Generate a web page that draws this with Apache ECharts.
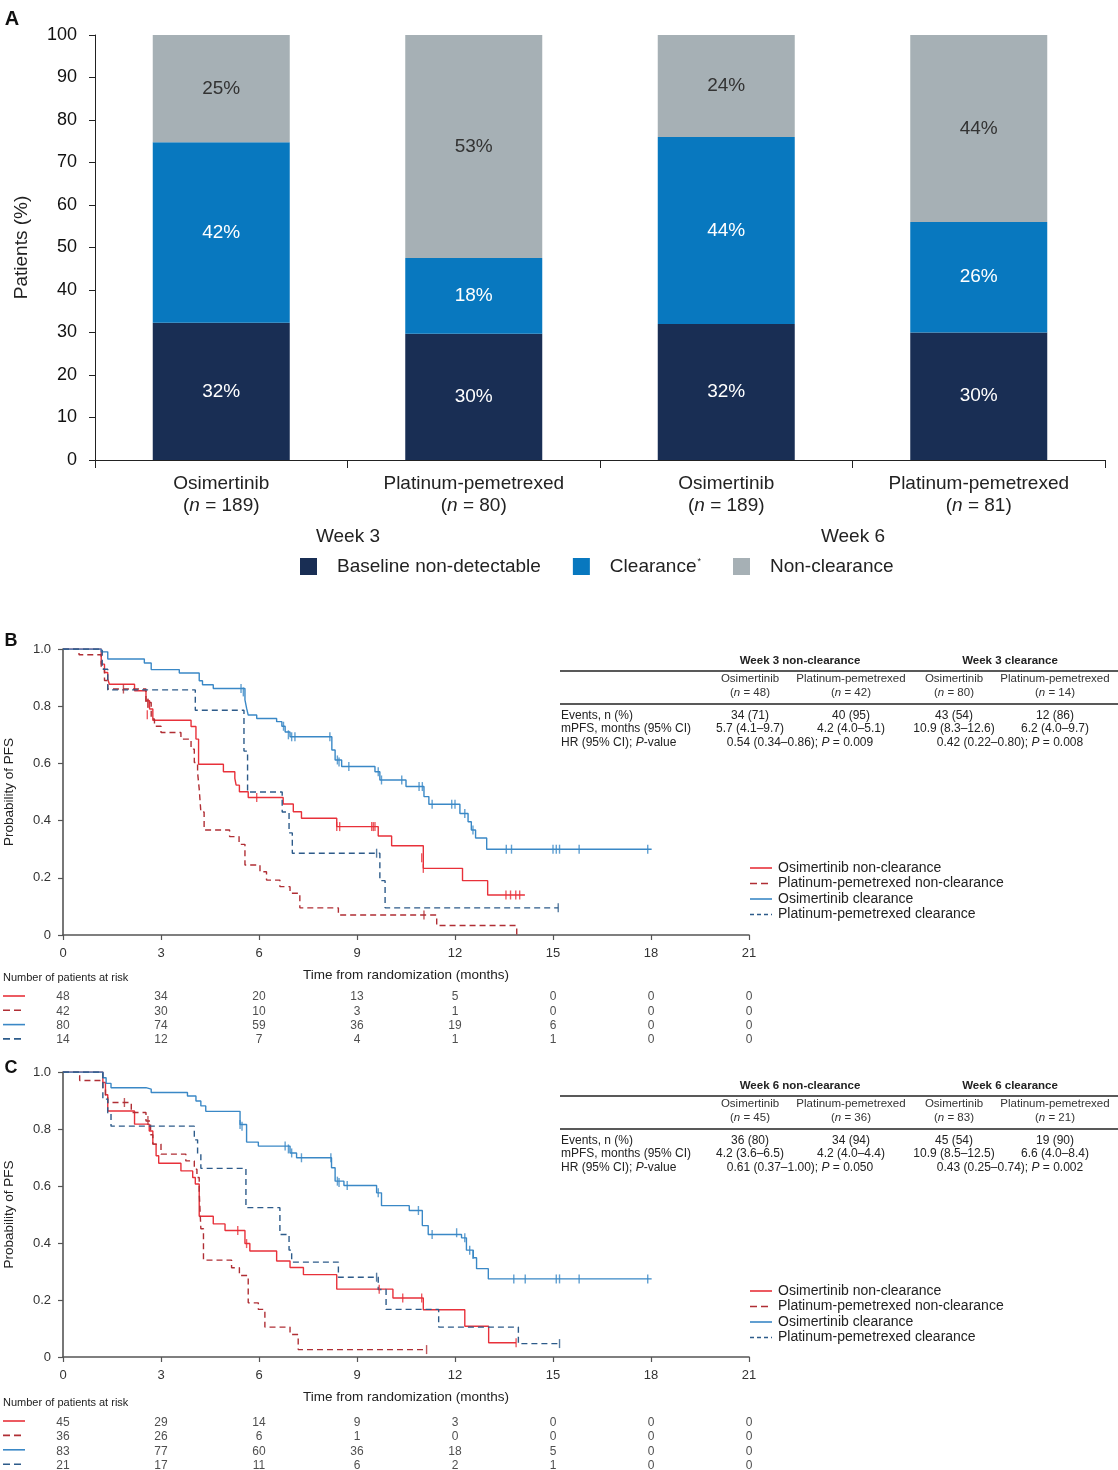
<!DOCTYPE html>
<html><head><meta charset="utf-8">
<script src="https://cdn.jsdelivr.net/npm/echarts/dist/echarts.min.js"></script>
<style>html,body{margin:0;padding:0;background:#fff}#c{width:1118px;height:1470px}</style>
</head><body><div id="c"></div><script>
// ---------- Panel A data ----------
const barCategories = ['Osimertinib', 'Platinum-pemetrexed', 'Osimertinib', 'Platinum-pemetrexed'];
const barN = [189, 80, 189, 81];
const weekLabels = ['Week 3', 'Week 6'];
const baselineND = [32, 30, 32, 30];
const clearance = [42, 18, 44, 26];
const nonClearance = [25, 53, 24, 44];

// ---------- Panel B KM data [months, probability] ----------
const kmB_osiNon = [[0,1],[1.17,0.947],[1.27,0.918],[1.37,0.895],[1.42,0.877],[2.19,0.854],[2.54,0.819],[2.65,0.79],[2.75,0.751],[3.92,0.729],[4.07,0.685],[4.15,0.597],[4.91,0.571],[5.26,0.548],[5.3,0.524],[5.4,0.501],[5.67,0.481],[6.74,0.458],[7.05,0.431],[7.3,0.408],[8.38,0.379],[9.65,0.346],[10.06,0.312],[11.03,0.233],[12.23,0.19],[13.0,0.14],[14.14,0.14]];
const kmB_osiNonCens = [[2.6,0.81],[2.58,0.77],[5.93,0.481],[8.38,0.379],[8.47,0.379],[9.45,0.379],[9.5,0.379],[9.55,0.379],[10.98,0.27],[11.03,0.233],[13.56,0.14],[13.7,0.14],[13.86,0.14],[13.98,0.14]];
const kmB_ppNon = [[0,1],[0.49,0.98],[1.17,0.93],[1.27,0.89],[1.37,0.86],[2.54,0.813],[2.7,0.755],[2.8,0.73],[3.0,0.708],[3.61,0.685],[3.92,0.65],[4.02,0.603],[4.12,0.568],[4.17,0.51],[4.22,0.43],[4.32,0.367],[5.1,0.344],[5.39,0.317],[5.57,0.245],[6.03,0.221],[6.23,0.192],[6.64,0.169],[6.95,0.146],[7.25,0.095],[8.43,0.07],[11.44,0.033],[13.89,0]];
const kmB_ppNonCens = [[1.85,0.86],[2.6,0.81],[11.05,0.07]];
const kmB_osiClr = [[0,1],[1.17,0.99],[1.37,0.965],[2.49,0.951],[2.7,0.928],[3.56,0.916],[4.17,0.889],[4.27,0.875],[4.6,0.862],[5.57,0.822],[5.62,0.793],[5.67,0.769],[5.93,0.757],[6.54,0.746],[6.7,0.73],[6.8,0.71],[6.95,0.693],[8.23,0.647],[8.33,0.612],[8.53,0.589],[9.55,0.571],[9.7,0.542],[10.5,0.519],[11.05,0.484],[11.2,0.457],[12.15,0.425],[12.4,0.396],[12.5,0.367],[12.63,0.339],[12.97,0.30],[18.02,0.30]];
const kmB_osiClrCens = [[5.45,0.862],[5.52,0.85],[6.75,0.73],[6.9,0.70],[7.0,0.693],[7.1,0.693],[8.17,0.693],[8.4,0.612],[8.45,0.605],[8.75,0.589],[9.65,0.571],[9.75,0.542],[10.37,0.542],[10.9,0.519],[11.0,0.519],[11.3,0.457],[11.9,0.457],[12.0,0.457],[12.3,0.425],[12.55,0.367],[13.57,0.30],[13.73,0.30],[15.0,0.30],[15.1,0.30],[15.2,0.30],[15.8,0.30],[17.9,0.30]];
const kmB_ppClr = [[0,1],[1.2,0.929],[1.37,0.857],[4.05,0.786],[5.54,0.643],[5.65,0.5],[6.71,0.43],[6.92,0.357],[7.02,0.286],[9.7,0.19],[9.86,0.095],[15.16,0.095]];
const kmB_ppClrCens = [[9.6,0.286],[15.16,0.095]];

// ---------- Panel C KM data ----------
const kmC_osiNon = [[0,1],[1.22,0.963],[1.3,0.92],[1.37,0.863],[2.19,0.817],[2.64,0.793],[2.75,0.747],[2.85,0.706],[2.93,0.68],[3.61,0.653],[3.97,0.63],[4.05,0.607],[4.17,0.494],[4.6,0.467],[4.96,0.444],[5.57,0.398],[5.72,0.372],[6.54,0.337],[6.95,0.314],[7.36,0.289],[8.38,0.238],[10.1,0.207],[11.03,0.166],[12.3,0.108],[13.03,0.05],[13.87,0.05]];
const kmC_osiNonCens = [[5.35,0.444],[5.62,0.398],[9.68,0.238],[10.4,0.207],[10.98,0.207],[13.87,0.05]];
const kmC_ppNon = [[0,1],[0.51,0.97],[1.22,0.94],[1.3,0.916],[1.37,0.893],[2.09,0.858],[2.54,0.828],[2.68,0.78],[2.75,0.747],[3.0,0.712],[3.76,0.688],[4.02,0.659],[4.1,0.63],[4.17,0.58],[4.22,0.45],[4.3,0.34],[5.16,0.313],[5.4,0.286],[5.67,0.19],[5.98,0.167],[6.18,0.105],[6.95,0.079],[7.2,0.026],[11.13,0.026]];
const kmC_ppNonCens = [[1.88,0.893],[2.6,0.83],[11.13,0.026]];
const kmC_osiClr = [[0,1],[1.22,0.98],[1.32,0.96],[1.47,0.945],[2.54,0.94],[2.7,0.928],[3.81,0.916],[4.07,0.898],[4.22,0.881],[4.37,0.862],[5.42,0.816],[5.62,0.754],[5.98,0.74],[6.95,0.716],[7.15,0.699],[8.22,0.664],[8.33,0.617],[8.6,0.602],[9.6,0.576],[9.75,0.531],[10.6,0.514],[11.0,0.461],[11.18,0.43],[12.2,0.418],[12.35,0.375],[12.56,0.348],[12.66,0.31],[13.02,0.274],[18.02,0.274]];
const kmC_osiClrCens = [[5.42,0.816],[5.48,0.81],[6.8,0.74],[6.9,0.73],[7.0,0.716],[7.3,0.699],[8.2,0.699],[8.4,0.617],[8.45,0.612],[8.7,0.602],[9.65,0.576],[10.88,0.514],[11.3,0.43],[12.05,0.436],[12.3,0.418],[12.45,0.375],[12.55,0.36],[13.8,0.274],[14.15,0.274],[15.1,0.274],[15.2,0.274],[15.8,0.274],[17.9,0.274]];
const kmC_ppClr = [[0,1],[1.22,0.905],[1.37,0.857],[1.47,0.81],[4.02,0.762],[4.12,0.714],[4.22,0.662],[5.6,0.524],[6.64,0.43],[6.92,0.375],[7.0,0.333],[8.43,0.28],[9.65,0.237],[9.89,0.167],[11.5,0.105],[13.94,0.047],[15.2,0.047]];
const kmC_ppClrCens = [[9.6,0.28],[15.2,0.047]];

// ---------- At-risk tables ----------
const riskTimes = [0, 3, 6, 9, 12, 15, 18, 21];
const riskB_osiNon = [48, 34, 20, 13, 5, 0, 0, 0];
const riskB_ppNon = [42, 30, 10, 3, 1, 0, 0, 0];
const riskB_osiClr = [80, 74, 59, 36, 19, 6, 0, 0];
const riskB_ppClr = [14, 12, 7, 4, 1, 1, 0, 0];
const riskC_osiNon = [45, 29, 14, 9, 3, 0, 0, 0];
const riskC_ppNon = [36, 26, 6, 1, 0, 0, 0, 0];
const riskC_osiClr = [83, 77, 60, 36, 18, 5, 0, 0];
const riskC_ppClr = [21, 17, 11, 6, 2, 1, 0, 0];

// ---------- Summary tables ----------
const tblB_groups = ['Week 3 non-clearance', 'Week 3 clearance'];
const tblB_n = [48, 42, 80, 14];
const tblB_events = ['34 (71)', '40 (95)', '43 (54)', '12 (86)'];
const tblB_mpfs = ['5.7 (4.1–9.7)', '4.2 (4.0–5.1)', '10.9 (8.3–12.6)', '6.2 (4.0–9.7)'];
const tblB_hr = ['0.54 (0.34–0.86); {i|P} = 0.009', '0.42 (0.22–0.80); {i|P} = 0.008'];
const tblC_groups = ['Week 6 non-clearance', 'Week 6 clearance'];
const tblC_n = [45, 36, 83, 21];
const tblC_events = ['36 (80)', '34 (94)', '45 (54)', '19 (90)'];
const tblC_mpfs = ['4.2 (3.6–6.5)', '4.2 (4.0–4.4)', '10.9 (8.5–12.5)', '6.6 (4.0–8.4)'];
const tblC_hr = ['0.61 (0.37–1.00); {i|P} = 0.050', '0.43 (0.25–0.74); {i|P} = 0.002'];
const tblArms = ['Osimertinib', 'Platinum-pemetrexed', 'Osimertinib', 'Platinum-pemetrexed'];
const kmLegend = ['Osimertinib non-clearance', 'Platinum-pemetrexed non-clearance', 'Osimertinib clearance', 'Platinum-pemetrexed clearance'];

// ---------- styling ----------
const FONT = '"Liberation Sans", Arial, Helvetica, sans-serif';
const C_DARK = '#192e54', C_BLUE = '#0878bf', C_GREY = '#a6b0b5';
const K_RED = '#e8313a', K_DRED = '#b02e34', K_BLUE = '#3a88c6', K_DBLUE = '#2d5b8a';
const kmStyles = [
  { color: K_RED, type: 'solid' },
  { color: K_DRED, type: [6, 4] },
  { color: K_BLUE, type: 'solid' },
  { color: K_DBLUE, type: [6, 4] }
];

const totals = baselineND.map((v, i) => v + clearance[i] + nonClearance[i]);
const norm = arr => arr.map((v, i) => v / totals[i] * 100);

function barSeries(name, raw, color, labelColor) {
  return {
    name, type: 'bar', stack: 'a', xAxisIndex: 0, yAxisIndex: 0, barWidth: 137,
    data: norm(raw), itemStyle: { color },
    label: { show: true, position: 'inside', color: labelColor, fontSize: 19, fontFamily: FONT,
      formatter: p => raw[p.dataIndex] + '%' }
  };
}

function kmAxisX(gi, nameTxt) {
  return {
    type: 'value', gridIndex: gi, min: 0, max: 21, interval: 3,
    axisLine: { show: true, lineStyle: { color: '#555', width: 1.6 } },
    axisTick: { show: true, length: 5, lineStyle: { color: '#555', width: 1.2 } },
    axisLabel: { fontSize: 13, color: '#333', margin: 12, fontFamily: FONT },
    splitLine: { show: false },
    name: nameTxt, nameLocation: 'middle', nameGap: 33,
    nameTextStyle: { fontSize: 13.5, color: '#222', fontFamily: FONT }
  };
}
function kmAxisY(gi) {
  return {
    type: 'value', gridIndex: gi, min: 0, max: 1, interval: 0.2,
    axisLine: { show: true, lineStyle: { color: '#555', width: 1.6 } },
    axisTick: { show: true, length: 5, lineStyle: { color: '#555', width: 1.2 } },
    axisLabel: { fontSize: 13, color: '#333', margin: 12, fontFamily: FONT,
      formatter: v => v === 0 ? '0' : v.toFixed(1) },
    splitLine: { show: false },
    name: 'Probability of PFS', nameLocation: 'middle', nameGap: 47,
    nameTextStyle: { fontSize: 13.5, color: '#222', fontFamily: FONT }
  };
}
function kmLine(data, st, ai) {
  return { type: 'line', step: 'end', xAxisIndex: ai, yAxisIndex: ai, data, showSymbol: false, symbol: 'none',
    lineStyle: { color: st.color, width: 1.4, type: st.type }, itemStyle: { color: st.color }, z: 3, silent: true };
}
function kmCens(data, st, ai) {
  return { type: 'scatter', xAxisIndex: ai, yAxisIndex: ai, data, symbol: 'rect', symbolSize: [1.4, 9],
    itemStyle: { color: st.color }, z: 4, silent: true };
}
function riskSeries(rows, ai) {
  const data = [];
  rows.forEach((r, ri) => r.forEach((v, i) => data.push([riskTimes[i], ri, v])));
  return { type: 'scatter', xAxisIndex: ai, yAxisIndex: ai, data, symbolSize: 1,
    itemStyle: { color: 'rgba(0,0,0,0)' }, silent: true,
    label: { show: true, position: 'inside', color: '#222', fontSize: 12, fontFamily: FONT, formatter: p => p.value[2] } };
}

// ---------- graphics ----------
const G = [];
function txt(x, y, text, o = {}) {
  G.push({ type: 'text', x, y, silent: true, style: Object.assign({
    text, fontSize: 12, fontFamily: FONT, fill: '#222', align: 'center', verticalAlign: 'middle',
    rich: { i: { fontStyle: 'italic', fontSize: o.fontSize || 12, fontFamily: FONT, fill: o.fill || '#222' } }
  }, o) });
}
function hline(x1, x2, y, color, width, dash) {
  G.push({ type: 'line', silent: true, shape: { x1, y1: y, x2, y2: y },
    style: { stroke: color, lineWidth: width, lineDash: dash || null } });
}
// panel letters
txt(12, 19, 'A', { fontSize: 20, fontWeight: 'bold', fill: '#111' });
txt(11, 641, 'B', { fontSize: 18, fontWeight: 'bold', fill: '#111' });
txt(11, 1068, 'C', { fontSize: 18, fontWeight: 'bold', fill: '#111' });
// week labels
txt(348, 537, weekLabels[0], { fontSize: 19 });
txt(853, 537, weekLabels[1], { fontSize: 19 });

function statTable(top, groups, n, ev, mpfs, hr) {
  const cols = [750, 851, 954, 1055];
  txt(800, top + 1, groups[0], { fontWeight: 'bold', fontSize: 11.5 });
  txt(1010, top + 1, groups[1], { fontWeight: 'bold', fontSize: 11.5 });
  hline(560, 1118, top + 11, '#222', 1.3);
  cols.forEach((x, i) => {
    txt(x, top + 19, tblArms[i], { fontSize: 11.5, fill: '#333' });
    txt(x, top + 33, '({i|n} = ' + n[i] + ')', { fontSize: 11.5, fill: '#333' });
    txt(x, top + 56, ev[i]);
    txt(x, top + 69, mpfs[i]);
  });
  hline(560, 1118, top + 44, '#222', 1.3);
  txt(561, top + 56, 'Events, n (%)', { align: 'left' });
  txt(561, top + 69, 'mPFS, months (95% CI)', { align: 'left' });
  txt(561, top + 83, 'HR (95% CI); {i|P}-value', { align: 'left' });
  txt(800, top + 83, hr[0]);
  txt(1010, top + 83, hr[1]);
}
statTable(660, tblB_groups, tblB_n, tblB_events, tblB_mpfs, tblB_hr);
statTable(1085, tblC_groups, tblC_n, tblC_events, tblC_mpfs, tblC_hr);

function kmLegendBlock(top) {
  kmLegend.forEach((name, i) => {
    const y = top + i * 15.5;
    hline(750, 772, y, kmStyles[i].color, 1.6, kmStyles[i].type === 'solid' ? null : (i === 1 ? [7, 4] : [4, 3]));
    txt(778, y, name, { align: 'left', fontSize: 14 });
  });
}
kmLegendBlock(868);
kmLegendBlock(1291);

function riskLegend(top, rowGap) {
  txt(3, top, 'Number of patients at risk', { align: 'left', fontSize: 11 });
  for (let i = 0; i < 4; i++) {
    const y = top + 18 + i * rowGap;
    hline(3, 25, y, kmStyles[i].color, 1.6, kmStyles[i].type === 'solid' ? null : [7, 4]);
  }
}
riskLegend(978, 14.3);
riskLegend(1403, 14.4);

const option = {
  animation: false,
  backgroundColor: '#fff',
  textStyle: { fontFamily: FONT },
  grid: [
    { left: 95, right: 13, top: 35, height: 425, outerBoundsMode: 'none', containLabel: false },
    { left: 63, width: 686, top: 649, height: 286, outerBoundsMode: 'none', containLabel: false },
    { left: 63, width: 686, top: 990, height: 57, outerBoundsMode: 'none', containLabel: false },
    { left: 63, width: 686, top: 1072, height: 285, outerBoundsMode: 'none', containLabel: false },
    { left: 63, width: 686, top: 1415, height: 58, outerBoundsMode: 'none', containLabel: false }
  ],
  legend: {
    data: ['Baseline non-detectable', 'Clearance', 'Non-clearance'],
    left: 300, top: 557, padding: 0, itemWidth: 17, itemHeight: 17, itemGap: 32, icon: 'rect',
    selectedMode: false,
    textStyle: { fontSize: 19, color: '#222', fontFamily: FONT, padding: [0, 0, 0, 15],
      rich: { sup: { fontSize: 9, verticalAlign: 'top', padding: [0, 0, 10, 1], color: '#222' } } },
    formatter: name => name === 'Clearance' ? 'Clearance{sup|*}' : name
  },
  xAxis: [
    { type: 'category', gridIndex: 0, data: barCategories,
      axisLine: { lineStyle: { color: '#222', width: 1 } },
      axisTick: { show: true, length: 8, lineStyle: { color: '#222' } },
      axisLabel: { fontSize: 19, color: '#222', lineHeight: 22, margin: 13, fontFamily: FONT,
        formatter: (v, i) => v + '\n({i|n} = ' + barN[i] + ')',
        rich: { i: { fontStyle: 'italic', fontSize: 19, color: '#222', lineHeight: 22, fontFamily: FONT } } } },
    kmAxisX(1, 'Time from randomization (months)'),
    { type: 'value', gridIndex: 2, min: 0, max: 21, show: false },
    kmAxisX(3, 'Time from randomization (months)'),
    { type: 'value', gridIndex: 4, min: 0, max: 21, show: false }
  ],
  yAxis: [
    { type: 'value', gridIndex: 0, min: 0, max: 100, interval: 10,
      axisLine: { show: true, lineStyle: { color: '#222', width: 1 } },
      axisTick: { show: true, length: 6, lineStyle: { color: '#222' } },
      axisLabel: { fontSize: 18, color: '#111', margin: 18, fontFamily: FONT },
      splitLine: { show: false },
      name: 'Patients (%)', nameLocation: 'middle', nameGap: 64,
      nameTextStyle: { fontSize: 19, color: '#222', fontFamily: FONT } },
    kmAxisY(1),
    { type: 'category', gridIndex: 2, data: ['0', '1', '2', '3'], inverse: true, show: false },
    kmAxisY(3),
    { type: 'category', gridIndex: 4, data: ['0', '1', '2', '3'], inverse: true, show: false }
  ],
  graphic: G,
  series: [
    barSeries('Baseline non-detectable', baselineND, C_DARK, '#fff'),
    barSeries('Clearance', clearance, C_BLUE, '#fff'),
    barSeries('Non-clearance', nonClearance, C_GREY, '#333'),
    kmLine(kmB_osiNon, kmStyles[0], 1), kmCens(kmB_osiNonCens, kmStyles[0], 1),
    kmLine(kmB_ppNon, kmStyles[1], 1), kmCens(kmB_ppNonCens, kmStyles[1], 1),
    kmLine(kmB_osiClr, kmStyles[2], 1), kmCens(kmB_osiClrCens, kmStyles[2], 1),
    kmLine(kmB_ppClr, kmStyles[3], 1), kmCens(kmB_ppClrCens, kmStyles[3], 1),
    riskSeries([riskB_osiNon, riskB_ppNon, riskB_osiClr, riskB_ppClr], 2),
    kmLine(kmC_osiNon, kmStyles[0], 3), kmCens(kmC_osiNonCens, kmStyles[0], 3),
    kmLine(kmC_ppNon, kmStyles[1], 3), kmCens(kmC_ppNonCens, kmStyles[1], 3),
    kmLine(kmC_osiClr, kmStyles[2], 3), kmCens(kmC_osiClrCens, kmStyles[2], 3),
    kmLine(kmC_ppClr, kmStyles[3], 3), kmCens(kmC_ppClrCens, kmStyles[3], 3),
    riskSeries([riskC_osiNon, riskC_ppNon, riskC_osiClr, riskC_ppClr], 4)
  ]
};
const chart = echarts.init(document.getElementById('c'), null, { renderer: 'canvas' });
chart.setOption(option);
</script></body></html>
